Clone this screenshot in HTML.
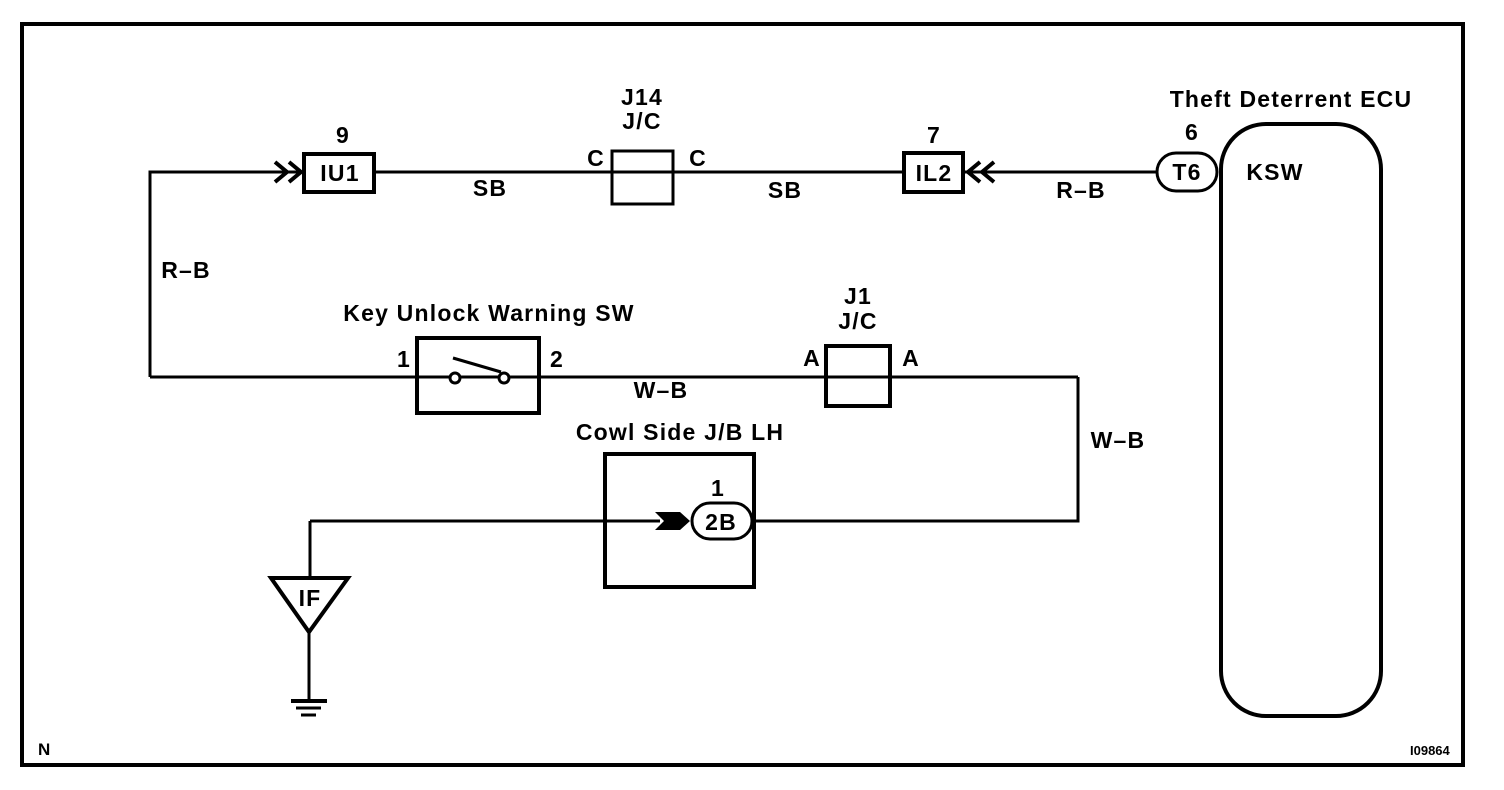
<!DOCTYPE html>
<html><head><style>
body{margin:0;background:#fff}
svg{display:block}
text{font-family:"Liberation Sans",Arial,sans-serif;font-size:23px;font-weight:bold;letter-spacing:1.2px;fill:#000}
</style></head><body>
<svg width="1504" height="790" viewBox="0 0 1504 790">
<rect x="22" y="24" width="1441" height="741" fill="none" stroke="#000" stroke-width="4"/>
<g fill="none" stroke="#000" stroke-width="3">
<polyline points="150,377 150,172 300,172"/>
<line x1="374" y1="172" x2="903" y2="172"/>
<line x1="963" y1="172" x2="1157" y2="172"/>
<rect x="304" y="154" width="70" height="38" stroke-width="4"/>
<polyline points="275,162 287,172 275,182" stroke-width="4"/>
<polyline points="289,162 301,172 289,182" stroke-width="4"/>
<rect x="612" y="151" width="61" height="53"/>
<rect x="904" y="153" width="59" height="39" stroke-width="4"/>
<polyline points="980,162 968,172 980,182" stroke-width="4"/>
<polyline points="994,162 982,172 994,182" stroke-width="4"/>
<rect x="1157" y="153" width="60" height="38" rx="19" stroke-width="3"/>
<rect x="1221" y="124" width="160" height="592" rx="45" stroke-width="4"/>
<line x1="150" y1="377" x2="1078" y2="377"/>
<rect x="417" y="338" width="122" height="75" stroke-width="4"/>
<line x1="453" y1="358" x2="501" y2="372"/>
<rect x="826" y="346" width="64" height="60" stroke-width="4"/>
<polyline points="1078,377 1078,521 752,521"/>
<line x1="310" y1="521" x2="660" y2="521"/>
<rect x="605" y="454" width="149" height="133" stroke-width="4"/>
<rect x="692" y="503" width="60" height="36" rx="18" stroke-width="3"/>
<polyline points="310,577 310,521"/>
<polygon points="271,578 348,578 309,632" stroke-width="4"/>
<line x1="309" y1="632" x2="309" y2="700"/>
<line x1="291" y1="701" x2="327" y2="701" stroke-width="4"/>
<line x1="296" y1="708" x2="321" y2="708"/>
<line x1="301" y1="715" x2="316" y2="715"/>
</g>
<circle cx="455" cy="378" r="5" fill="#fff" stroke="#000" stroke-width="3"/>
<circle cx="504" cy="378" r="5" fill="#fff" stroke="#000" stroke-width="3"/>
<polygon points="655,512 680,512 690,521 680,530 655,530 664,521" fill="#000"/>
<g text-anchor="middle">
<text x="343" y="143">9</text>
<text x="340" y="181">IU1</text>
<text x="490" y="196">SB</text>
<text x="642" y="105">J14</text>
<text x="642" y="129">J/C</text>
<text x="596" y="166">C</text>
<text x="698" y="166">C</text>
<text x="785" y="198">SB</text>
<text x="934" y="143">7</text>
<text x="934" y="181">IL2</text>
<text x="1081" y="198">R–B</text>
<text x="1192" y="140">6</text>
<text x="1187" y="180">T6</text>
<text x="1291" y="107">Theft Deterrent ECU</text>
<text x="1275" y="180">KSW</text>
<text x="186" y="278">R–B</text>
<text x="489" y="321">Key Unlock Warning SW</text>
<text x="404" y="367">1</text>
<text x="557" y="367">2</text>
<text x="661" y="398">W–B</text>
<text x="858" y="304">J1</text>
<text x="858" y="329">J/C</text>
<text x="812" y="366">A</text>
<text x="911" y="366">A</text>
<text x="1118" y="448">W–B</text>
<text x="680" y="440">Cowl Side J/B LH</text>
<text x="718" y="496">1</text>
<text x="721" y="530">2B</text>
<text x="310" y="606">IF</text>
</g>
<text x="38" y="755" style="font-size:17px;letter-spacing:0">N</text>
<text x="1410" y="755" style="font-size:13px;letter-spacing:0">I09864</text>
</svg>
</body></html>
